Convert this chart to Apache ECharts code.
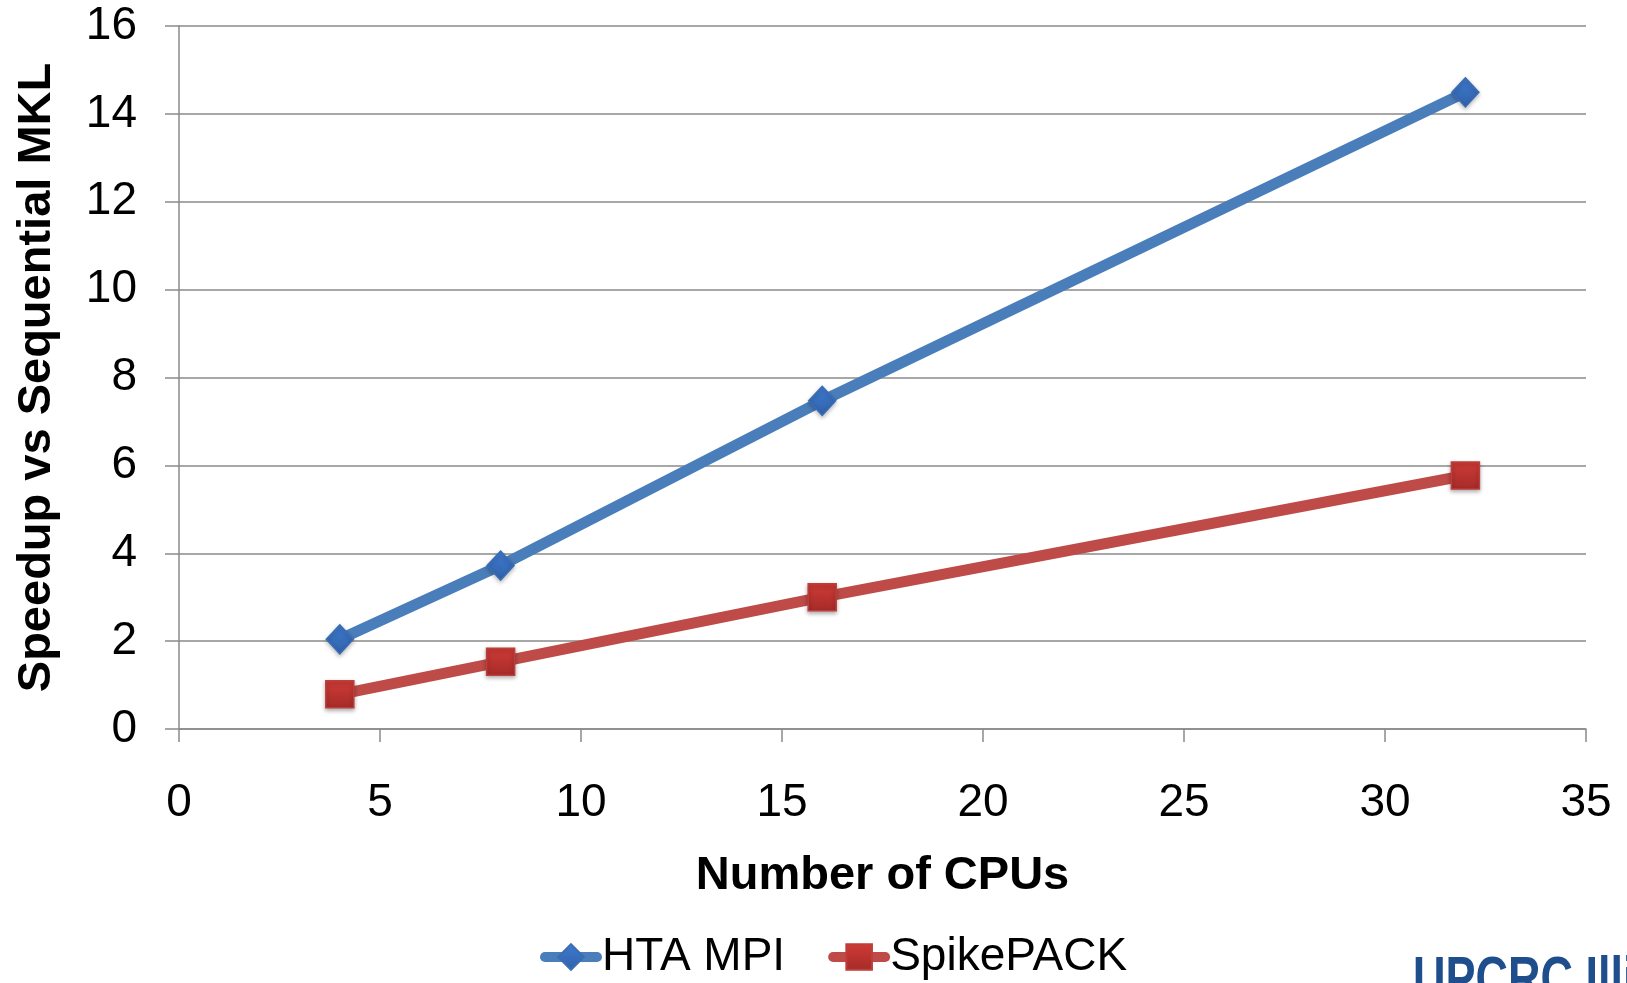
<!DOCTYPE html>
<html>
<head>
<meta charset="utf-8">
<script src="https://cdn.jsdelivr.net/npm/echarts@6/dist/echarts.min.js"></script>
<style>
  html, body { margin: 0; padding: 0; background: #ffffff; }
  #chart { width: 1627px; height: 983px; }
</style>
</head>
<body>
<div id="chart"></div>
<script>
const cpus = [4, 8, 16, 32];
const htaMpi = [2.04, 3.72, 7.47, 14.49];
const spikePack = [0.79, 1.53, 3.0, 5.77];
const seriesNames = ['HTA MPI', 'SpikePACK'];
const xTitle = 'Number of CPUs';
const yTitle = 'Speedup vs Sequential MKL';
const logoText = 'UPCRC Illinois';

const chart = echarts.init(document.getElementById('chart'), null, { renderer: 'canvas' });
const font = 'Liberation Sans, Arial, sans-serif';
const axisGray = '#8a8a8a';

const toPairs = (xs, ys) => xs.map((x, i) => [x, ys[i]]);

const option = {
  backgroundColor: '#ffffff',
  animation: false,
  textStyle: { fontFamily: font },
  grid: { left: 179, right: 41, top: 26, bottom: 254, containLabel: false },
  legend: {
    data: seriesNames,
    left: 540,
    top: 934,
    padding: 0,
    itemWidth: 52,
    itemHeight: 32,
    itemGap: 43,
    lineStyle: { width: 10, cap: 'round' },
    textStyle: { fontFamily: font, fontSize: 46, color: '#000000' }
  },
  xAxis: {
    type: 'value',
    min: 0,
    max: 35,
    interval: 5,
    name: xTitle,
    nameLocation: 'middle',
    nameGap: 124,
    nameTextStyle: { fontFamily: font, fontSize: 47, fontWeight: 'bold', color: '#000000' },
    axisLine: { show: true, onZero: false, lineStyle: { color: axisGray, width: 1.5 } },
    axisTick: { show: true, length: 13, lineStyle: { color: axisGray, width: 1.5 } },
    axisLabel: { fontFamily: font, fontSize: 46, color: '#000000', margin: 51 },
    splitLine: { show: false }
  },
  yAxis: {
    type: 'value',
    min: 0,
    max: 16,
    interval: 2,
    name: yTitle,
    nameLocation: 'middle',
    nameGap: 118,
    nameRotate: 90,
    nameTextStyle: { fontFamily: font, fontSize: 47, fontWeight: 'bold', color: '#000000' },
    axisLine: { show: true, lineStyle: { color: axisGray, width: 1.5 } },
    axisTick: { show: true, length: 14, lineStyle: { color: axisGray, width: 1.5 } },
    axisLabel: { fontFamily: font, fontSize: 46, color: '#000000', margin: 42 },
    splitLine: { show: true, lineStyle: { color: axisGray, width: 1.5 } }
  },
  series: [
    {
      name: seriesNames[0],
      type: 'line',
      data: toPairs(cpus, htaMpi),
      symbol: 'diamond',
      symbolSize: [27, 29],
      lineStyle: { color: '#4a7ebb', width: 11 },
      itemStyle: {
        color: new echarts.graphic.LinearGradient(0, 0, 0, 1, [
          { offset: 0, color: '#3f7ad0' },
          { offset: 1, color: '#2f62a8' }
        ]),
        borderColor: '#3a6db5',
        borderWidth: 1.5,
        shadowColor: 'rgba(0,0,0,0.25)',
        shadowBlur: 4,
        shadowOffsetY: 2
      },
      z: 3
    },
    {
      name: seriesNames[1],
      type: 'line',
      data: toPairs(cpus, spikePack),
      symbol: 'rect',
      symbolSize: [28, 27],
      lineStyle: { color: '#be4b48', width: 11 },
      itemStyle: {
        color: new echarts.graphic.LinearGradient(0, 0, 0, 1, [
          { offset: 0, color: '#cf3b36' },
          { offset: 1, color: '#a52b29' }
        ]),
        borderColor: '#bd3e3a',
        borderWidth: 1.5,
        shadowColor: 'rgba(0,0,0,0.3)',
        shadowBlur: 4,
        shadowOffsetY: 2
      },
      z: 2
    }
  ],
  graphic: [
    {
      type: 'text',
      x: 1413,
      y: 951,
      scaleX: 0.75,
      silent: true,
      style: {
        text: logoText,
        font: 'bold 60px "Liberation Sans", sans-serif',
        fill: '#1f4e8c',
        verticalAlign: 'top'
      }
    }
  ]
};

chart.setOption(option);
</script>
</body>
</html>
